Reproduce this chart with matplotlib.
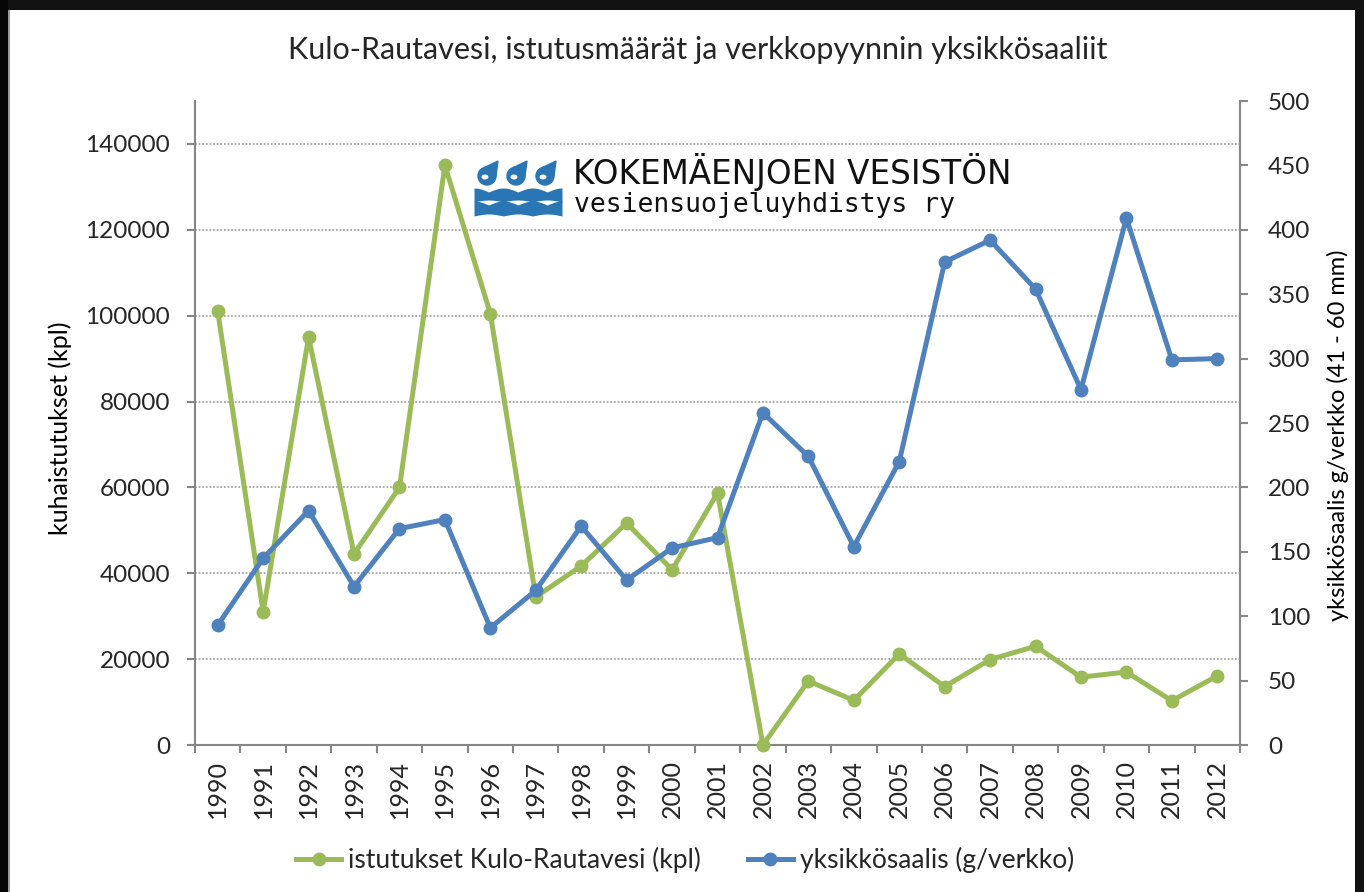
import matplotlib
matplotlib.use("Agg")
import matplotlib.pyplot as plt
import matplotlib.patches as mpatches
from matplotlib.lines import Line2D
import numpy as np

W, H = 1364, 892
DPI = 100

years = [str(y) for y in range(1990, 2013)]
istutukset = [101000, 31000, 95000, 44500, 60000, 135000, 100500, 34500, 41700, 51700,
              40800, 58700, 0, 14900, 10400, 21200, 13600, 19900, 23000, 15800,
              17000, 10300, 16100]
saalis = [93, 145, 182, 123, 168, 175, 91, 120, 170, 128,
          153, 161, 258, 224, 154, 220, 375, 392, 354, 276,
          409, 299, 300]

left_ticks = [0, 20000, 40000, 60000, 80000, 100000, 120000, 140000]
right_ticks = [0, 50, 100, 150, 200, 250, 300, 350, 400, 450, 500]

green = "#9bbb59"
blue = "#4f81bd"
axis_grey = "#868686"
text_col = "#262626"
font = "Lato"

plt.rcParams["font.family"] = [font, "DejaVu Sans"]

def px_x(x):
    return x / W

def px_y(y):
    return 1 - y / H

fig = plt.figure(figsize=(W / DPI, H / DPI), dpi=DPI, facecolor="white")

# dark frame of the screenshot
fig.patches.append(mpatches.Rectangle((0, px_y(10)), 1, 10 / H, transform=fig.transFigure,
                                      facecolor="#121212", edgecolor="none", zorder=0))
fig.patches.append(mpatches.Rectangle((0, 0), 8 / W, 1, transform=fig.transFigure,
                                      facecolor="#050505", edgecolor="none", zorder=0))
fig.patches.append(mpatches.Rectangle((8 / W, 0), 2 / W, px_y(10), transform=fig.transFigure,
                                      facecolor="#9a9a9a", edgecolor="none", zorder=0))
fig.patches.append(mpatches.Rectangle((px_x(1355), 0), 9 / W, 1, transform=fig.transFigure,
                                      facecolor="#121212", edgecolor="none", zorder=0))

ax1 = fig.add_axes([px_x(195), px_y(745), (1240 - 195) / W, (745 - 101) / H])
ax2 = ax1.twinx()

x = np.arange(len(years))
ax1.plot(x, istutukset, color=green, lw=3.6, marker="o", ms=9, zorder=3, clip_on=False)
ax2.plot(x, saalis, color=blue, lw=3.6, marker="o", ms=9, zorder=3, clip_on=False)

ax1.set_xlim(-0.5, len(years) - 0.5)
ax1.set_ylim(0, 150000)
ax2.set_ylim(0, 500)

ax1.set_yticks(left_ticks)
ax1.set_yticklabels([str(v) for v in left_ticks])
ax2.set_yticks(right_ticks)
ax2.set_yticklabels([str(v) for v in right_ticks])

ax1.set_xticks(np.arange(-0.5, len(years), 1.0))
ax1.set_xticklabels([])
ax1.set_xticks(x, minor=True)
ax1.set_xticklabels(years, minor=True, rotation=90)

ax1.yaxis.grid(True, color="#a6a6a6", lw=1.3, ls=(0, (1, 1)))
ax1.set_axisbelow(True)

for ax in (ax1, ax2):
    ax.set_facecolor("none")
    ax.spines["top"].set_visible(False)
    for s in ("left", "right", "bottom"):
        ax.spines[s].set_color(axis_grey)
        ax.spines[s].set_linewidth(1.5)
ax2.spines["left"].set_visible(False)
ax2.spines["bottom"].set_visible(False)
ax1.spines["right"].set_visible(False)

ax1.tick_params(axis="y", which="major", direction="out", length=6, width=1.5, color=axis_grey,
                labelsize=17.5, labelcolor=text_col, pad=12)
ax1.tick_params(axis="x", which="major", direction="out", length=6, width=1.5, color=axis_grey)
ax1.tick_params(axis="x", which="minor", length=0, labelsize=18, labelcolor=text_col, pad=11)
ax2.tick_params(axis="y", direction="out", length=6, width=1.5, color=axis_grey,
                labelsize=17.5, labelcolor=text_col, pad=14)

fig.text(px_x(698), px_y(50), "Kulo-Rautavesi, istutusmäärät ja verkkopyynnin yksikkösaaliit",
         ha="center", va="center", fontsize=22, color=text_col)
fig.text(px_x(60), px_y(428), "kuhaistutukset (kpl)", rotation=90, ha="center", va="center",
         fontsize=18, color="black")
fig.text(px_x(1338), px_y(435), "yksikkösaalis g/verkko (41 - 60 mm)", rotation=90,
         ha="center", va="center", fontsize=17, color="black")

handles = [Line2D([], [], color=green, lw=3.6, marker="o", ms=9),
           Line2D([], [], color=blue, lw=3.6, marker="o", ms=9)]
fig.legend(handles, ["istutukset Kulo-Rautavesi (kpl)", "yksikkösaalis (g/verkko)"],
           loc="center", bbox_to_anchor=(px_x(685), px_y(860)), ncol=2, frameon=False,
           fontsize=19, handlelength=1.7, handletextpad=0.25, columnspacing=1.8,
           labelcolor=text_col)

# logo
logo_blue = "#2a76b4"
lax = fig.add_axes([px_x(474), px_y(217), 88 / W, 58 / H])
lax.set_xlim(0, 88)
lax.set_ylim(58, 0)
lax.axis("off")
for cx in (13, 42, 71):
    lax.add_patch(mpatches.Circle((cx, 17), 9, color=logo_blue))
    lax.add_patch(mpatches.Polygon([[cx - 2.5, 8.5], [cx + 9, 17], [cx + 11, 2]], color=logo_blue))
    lax.add_patch(mpatches.Ellipse((cx - 2, 18), 5.5, 3.5, color="white"))
xs = np.linspace(0, 88, 200)
for top, bot in ((33, 43), (46, 57)):
    wave = top - 4 * np.abs(np.cos(np.pi * xs / 29.3))
    lax.fill_between(xs, wave, bot - 2 * np.abs(np.sin(np.pi * xs / 29.3)), color=logo_blue, lw=0)
fig.text(px_x(573), px_y(184), "KOKEMÄENJOEN VESISTÖN", ha="left", va="baseline",
         fontsize=23.5, family="DejaVu Sans", color="#111111")
fig.text(px_x(574), px_y(212), "vesiensuojeluyhdistys ry", ha="left", va="baseline",
         fontsize=19, family="DejaVu Sans Mono", color="#111111")

fig.savefig("out.png", dpi=DPI, facecolor="white")
